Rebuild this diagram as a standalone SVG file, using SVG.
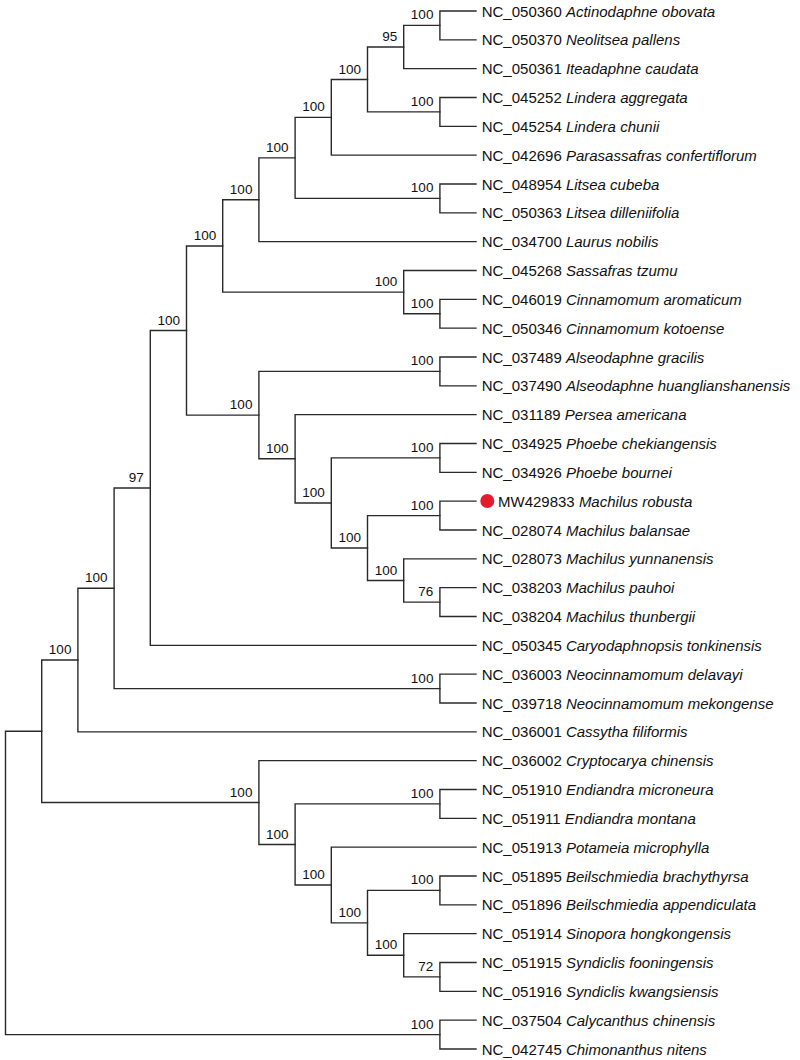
<svg xmlns="http://www.w3.org/2000/svg" width="800" height="1060" viewBox="0 0 800 1060">
<style>
.br{fill:none;stroke:#2a2a2a;stroke-width:1.4;stroke-linecap:square}
.lf{font-family:"Liberation Sans",Arial,sans-serif;font-size:15px;fill:#111}
.lf tspan{font-style:italic}
.bs{font-family:"Liberation Sans",Arial,sans-serif;font-size:13.5px;fill:#111;text-anchor:end}
</style>
<rect width="800" height="1060" fill="#fff"/>
<g id="connectors">
<path class="br" d="M476 11 H439.9 V39.83 H476"/>
<path class="br" d="M439.9 25.42 H403.7 V68.67 H476"/>
<path class="br" d="M476 97.5 H439.9 V126.33 H476"/>
<path class="br" d="M403.7 47.04 H367.5 V111.92 H439.9"/>
<path class="br" d="M367.5 79.48 H331.3 V155.17 H476"/>
<path class="br" d="M476 184 H439.9 V212.83 H476"/>
<path class="br" d="M331.3 117.33 H295.1 V198.42 H439.9"/>
<path class="br" d="M295.1 157.87 H258.9 V241.67 H476"/>
<path class="br" d="M476 299.33 H439.9 V328.17 H476"/>
<path class="br" d="M476 270.5 H403.7 V313.75 H439.9"/>
<path class="br" d="M258.9 199.77 H222.7 V292.12 H403.7"/>
<path class="br" d="M476 357 H439.9 V385.83 H476"/>
<path class="br" d="M476 443.5 H439.9 V472.33 H476"/>
<path class="br" d="M476 501.17 H439.9 V530 H476"/>
<path class="br" d="M476 587.67 H439.9 V616.5 H476"/>
<path class="br" d="M476 558.83 H403.7 V602.08 H439.9"/>
<path class="br" d="M439.9 515.58 H367.5 V580.46 H403.7"/>
<path class="br" d="M439.9 457.92 H331.3 V548.02 H367.5"/>
<path class="br" d="M476 414.67 H295.1 V502.97 H331.3"/>
<path class="br" d="M439.9 371.42 H258.9 V458.82 H295.1"/>
<path class="br" d="M222.7 245.94 H186.5 V415.12 H258.9"/>
<path class="br" d="M186.5 330.53 H150.3 V645.33 H476"/>
<path class="br" d="M476 674.17 H439.9 V703 H476"/>
<path class="br" d="M150.3 487.93 H114.1 V688.58 H439.9"/>
<path class="br" d="M114.1 588.26 H77.9 V731.83 H476"/>
<path class="br" d="M476 789.5 H439.9 V818.33 H476"/>
<path class="br" d="M476 876 H439.9 V904.83 H476"/>
<path class="br" d="M476 962.5 H439.9 V991.33 H476"/>
<path class="br" d="M476 933.67 H403.7 V976.92 H439.9"/>
<path class="br" d="M439.9 890.42 H367.5 V955.29 H403.7"/>
<path class="br" d="M476 847.17 H331.3 V922.85 H367.5"/>
<path class="br" d="M439.9 803.92 H295.1 V885.01 H331.3"/>
<path class="br" d="M476 760.67 H258.9 V844.46 H295.1"/>
<path class="br" d="M77.9 660.04 H41.7 V802.57 H258.9"/>
<path class="br" d="M476 1020.17 H439.9 V1049 H476"/>
<path class="br" d="M41.7 731.3 H5.5 V1034.58 H439.9"/>
</g>
<g id="leaves">
<g id="leaf1"><text class="lf" x="481.7" y="16.5">NC_050360 <tspan>Actinodaphne obovata</tspan></text></g>
<g id="leaf2"><text class="lf" x="481.7" y="45.3">NC_050370 <tspan>Neolitsea pallens</tspan></text></g>
<g id="leaf3"><text class="lf" x="481.7" y="74.2">NC_050361 <tspan>Iteadaphne caudata</tspan></text></g>
<g id="leaf4"><text class="lf" x="481.7" y="103">NC_045252 <tspan>Lindera aggregata</tspan></text></g>
<g id="leaf5"><text class="lf" x="481.7" y="131.8">NC_045254 <tspan>Lindera chunii</tspan></text></g>
<g id="leaf6"><text class="lf" x="481.7" y="160.7">NC_042696 <tspan>Parasassafras confertiflorum</tspan></text></g>
<g id="leaf7"><text class="lf" x="481.7" y="189.5">NC_048954 <tspan>Litsea cubeba</tspan></text></g>
<g id="leaf8"><text class="lf" x="481.7" y="218.3">NC_050363 <tspan>Litsea dilleniifolia</tspan></text></g>
<g id="leaf9"><text class="lf" x="481.7" y="247.2">NC_034700 <tspan>Laurus nobilis</tspan></text></g>
<g id="leaf10"><text class="lf" x="481.7" y="276">NC_045268 <tspan>Sassafras tzumu</tspan></text></g>
<g id="leaf11"><text class="lf" x="481.7" y="304.8">NC_046019 <tspan>Cinnamomum aromaticum</tspan></text></g>
<g id="leaf12"><text class="lf" x="481.7" y="333.7">NC_050346 <tspan>Cinnamomum kotoense</tspan></text></g>
<g id="leaf13"><text class="lf" x="481.7" y="362.5">NC_037489 <tspan>Alseodaphne gracilis</tspan></text></g>
<g id="leaf14"><text class="lf" x="481.7" y="391.3">NC_037490 <tspan>Alseodaphne huanglianshanensis</tspan></text></g>
<g id="leaf15"><text class="lf" x="481.7" y="420.2">NC_031189 <tspan>Persea americana</tspan></text></g>
<g id="leaf16"><text class="lf" x="481.7" y="449">NC_034925 <tspan>Phoebe chekiangensis</tspan></text></g>
<g id="leaf17"><text class="lf" x="481.7" y="477.8">NC_034926 <tspan>Phoebe bournei</tspan></text></g>
<g id="leaf18"><circle cx="487.3" cy="501" r="7" fill="#e11d2e"/><text class="lf" x="498" y="506.7">MW429833 <tspan>Machilus robusta</tspan></text></g>
<g id="leaf19"><text class="lf" x="481.7" y="535.5">NC_028074 <tspan>Machilus balansae</tspan></text></g>
<g id="leaf20"><text class="lf" x="481.7" y="564.3">NC_028073 <tspan>Machilus yunnanensis</tspan></text></g>
<g id="leaf21"><text class="lf" x="481.7" y="593.2">NC_038203 <tspan>Machilus pauhoi</tspan></text></g>
<g id="leaf22"><text class="lf" x="481.7" y="622">NC_038204 <tspan>Machilus thunbergii</tspan></text></g>
<g id="leaf23"><text class="lf" x="481.7" y="650.8">NC_050345 <tspan>Caryodaphnopsis tonkinensis</tspan></text></g>
<g id="leaf24"><text class="lf" x="481.7" y="679.7">NC_036003 <tspan>Neocinnamomum delavayi</tspan></text></g>
<g id="leaf25"><text class="lf" x="481.7" y="708.5">NC_039718 <tspan>Neocinnamomum mekongense</tspan></text></g>
<g id="leaf26"><text class="lf" x="481.7" y="737.3">NC_036001 <tspan>Cassytha filiformis</tspan></text></g>
<g id="leaf27"><text class="lf" x="481.7" y="766.2">NC_036002 <tspan>Cryptocarya chinensis</tspan></text></g>
<g id="leaf28"><text class="lf" x="481.7" y="795">NC_051910 <tspan>Endiandra microneura</tspan></text></g>
<g id="leaf29"><text class="lf" x="481.7" y="823.8">NC_051911 <tspan>Endiandra montana</tspan></text></g>
<g id="leaf30"><text class="lf" x="481.7" y="852.7">NC_051913 <tspan>Potameia microphylla</tspan></text></g>
<g id="leaf31"><text class="lf" x="481.7" y="881.5">NC_051895 <tspan>Beilschmiedia brachythyrsa</tspan></text></g>
<g id="leaf32"><text class="lf" x="481.7" y="910.3">NC_051896 <tspan>Beilschmiedia appendiculata</tspan></text></g>
<g id="leaf33"><text class="lf" x="481.7" y="939.2">NC_051914 <tspan>Sinopora hongkongensis</tspan></text></g>
<g id="leaf34"><text class="lf" x="481.7" y="968">NC_051915 <tspan>Syndiclis fooningensis</tspan></text></g>
<g id="leaf35"><text class="lf" x="481.7" y="996.8">NC_051916 <tspan>Syndiclis kwangsiensis</tspan></text></g>
<g id="leaf36"><text class="lf" x="481.7" y="1025.7">NC_037504 <tspan>Calycanthus chinensis</tspan></text></g>
<g id="leaf37"><text class="lf" x="481.7" y="1054.5">NC_042745 <tspan>Chimonanthus nitens</tspan></text></g>
</g>
<g id="internal-nodes">
<g id="n-actino-neolitsea"><text class="bs" x="433.4" y="19.4">100</text></g>
<g id="n-iteadaphne"><text class="bs" x="397.2" y="41">95</text></g>
<g id="n-lindera"><text class="bs" x="433.4" y="105.9">100</text></g>
<g id="n-k"><text class="bs" x="361" y="73.5">100</text></g>
<g id="n-j"><text class="bs" x="324.8" y="111.3">100</text></g>
<g id="n-litsea"><text class="bs" x="433.4" y="192.4">100</text></g>
<g id="n-i"><text class="bs" x="288.6" y="151.9">100</text></g>
<g id="n-h"><text class="bs" x="252.4" y="193.8">100</text></g>
<g id="n-cinnamomum"><text class="bs" x="433.4" y="307.8">100</text></g>
<g id="n-sassafras"><text class="bs" x="397.2" y="286.1">100</text></g>
<g id="n-f"><text class="bs" x="216.2" y="240">100</text></g>
<g id="n-alseodaphne"><text class="bs" x="433.4" y="365.4">100</text></g>
<g id="n-phoebe"><text class="bs" x="433.4" y="451.9">100</text></g>
<g id="n-machilus1"><text class="bs" x="433.4" y="509.6">100</text></g>
<g id="n-machilus2"><text class="bs" x="433.4" y="596.1">76</text></g>
<g id="n-p"><text class="bs" x="397.2" y="574.5">100</text></g>
<g id="n-o"><text class="bs" x="361" y="542">100</text></g>
<g id="n-n"><text class="bs" x="324.8" y="497">100</text></g>
<g id="n-m"><text class="bs" x="288.6" y="452.8">100</text></g>
<g id="n-g"><text class="bs" x="252.4" y="409.1">100</text></g>
<g id="n-e"><text class="bs" x="180" y="324.5">100</text></g>
<g id="n-d"><text class="bs" x="143.8" y="481.9">97</text></g>
<g id="n-neocinnamomum"><text class="bs" x="433.4" y="682.6">100</text></g>
<g id="n-c"><text class="bs" x="107.6" y="582.3">100</text></g>
<g id="n-b"><text class="bs" x="71.4" y="654">100</text></g>
<g id="n-endiandra"><text class="bs" x="433.4" y="797.9">100</text></g>
<g id="n-beilschmiedia"><text class="bs" x="433.4" y="884.4">100</text></g>
<g id="n-syndiclis"><text class="bs" x="433.4" y="970.9">72</text></g>
<g id="n-v"><text class="bs" x="397.2" y="949.3">100</text></g>
<g id="n-u"><text class="bs" x="361" y="916.9">100</text></g>
<g id="n-t"><text class="bs" x="324.8" y="879">100</text></g>
<g id="n-s"><text class="bs" x="288.6" y="838.5">100</text></g>
<g id="n-r"><text class="bs" x="252.4" y="796.6">100</text></g>
<g id="n-calycanthaceae"><text class="bs" x="433.4" y="1028.6">100</text></g>
<g id="n-a"/>
<g id="n-root"/>
</g>
</svg>
